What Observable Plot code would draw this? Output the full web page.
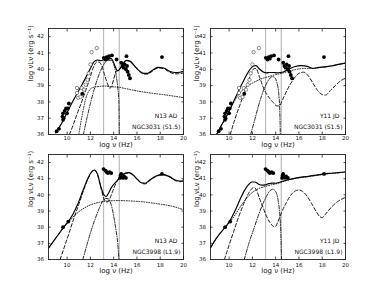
<!DOCTYPE html>
<html><head><meta charset="utf-8">
<script src="https://cdn.jsdelivr.net/npm/d3@7"></script>
<script src="https://cdn.jsdelivr.net/npm/@observablehq/plot@0.6"></script>
<style>
html,body{margin:0;padding:0;background:#fff;}
#fig{position:relative;width:384px;height:288px;overflow:hidden;background:#fff;}
#fig svg{position:absolute;}
</style></head><body><div id="fig"></div>
<script>
const xTicks = [10, 12, 14, 16, 18, 20];
const yTicks = [36, 37, 38, 39, 40, 41, 42];
const bandLines = [13.13, 14.48];
const xLabel = "log ν (Hz)";
const yLabel = "log νLν (erg s⁻¹)";

// NGC3031 photometry
const n3031Filled = [[9.1,36.2],[9.3,36.35],[9.6,37.1],[9.65,36.9],[9.65,37.3],[9.7,37.0],[9.8,37.45],[9.9,37.6],[10.0,37.3],[10.05,37.6],[10.15,37.9],[11.3,38.5],[13.15,40.7],[13.3,40.6],[13.4,40.75],[13.5,40.65],[13.6,40.8],[13.85,40.85],[14.25,40.6],[14.65,40.4],[14.75,40.2],[14.85,40.1],[14.95,40.3],[15.05,40.0],[15.1,40.8],[15.15,40.2],[15.2,39.85],[15.3,39.65],[15.4,39.45],[18.15,40.75]];
const n3031Open = [[10.85,38.85],[11.25,38.85],[10.85,38.55],[10.95,38.25],[11.15,38.3],[11.45,38.75],[11.6,39.05],[11.75,39.35],[11.85,39.75],[12.0,40.3],[12.1,41.05],[12.55,41.3]];
// NGC3998 photometry
const n3998Filled = [[9.65,38.0],[10.1,38.35],[13.13,41.6],[13.3,41.5],[13.4,41.42],[13.5,41.35],[13.65,41.4],[13.8,41.35],[14.55,41.05],[14.6,41.2],[14.65,41.3],[14.7,41.1],[14.8,41.05],[14.9,41.15],[15.05,41.05],[18.15,41.3]];

// Panel 1: N13 AD, NGC3031
const total1 = [[9.0,36.1],[9.5,36.65],[10.0,37.35],[10.5,38.05],[11.0,38.7],[11.5,39.35],[12.0,40.05],[12.3,40.45],[12.6,40.57],[12.9,40.52],[13.2,40.6],[13.5,40.68],[13.8,40.65],[14.0,40.4],[14.2,40.05],[14.35,39.9],[14.55,40.05],[14.8,40.35],[15.1,40.55],[15.4,40.5],[15.8,40.2],[16.2,39.9],[16.6,39.75],[16.9,39.75],[17.3,39.92],[17.8,40.12],[18.3,40.08],[18.8,39.88],[19.3,39.8],[19.7,39.82],[20,39.86]];
const adaf1 = [[10.2,36.0],[10.5,36.55],[10.8,37.15],[11.2,37.9],[11.6,38.7],[12.0,39.55],[12.3,40.2],[12.55,40.45],[12.8,40.42],[13.0,40.15],[13.2,39.7],[13.45,39.15],[13.65,38.85],[13.8,38.9],[14.0,39.4],[14.2,39.85],[14.4,39.95],[14.6,40.05],[14.8,40.33],[15.1,40.53],[15.4,40.48],[15.8,40.18],[16.2,39.87],[16.6,39.71],[16.9,39.7],[17.3,39.87],[17.8,40.08],[18.3,40.04],[18.8,39.82],[19.3,39.72],[19.7,39.73],[20,39.77]];
const jet1 = [[11.0,36.0],[11.3,37.2],[11.6,38.2],[11.9,38.7],[12.2,38.88],[12.6,38.93],[13.2,38.97],[13.8,38.93],[14.4,38.9],[15.0,38.82],[15.8,38.7],[16.6,38.6],[17.4,38.52],[18.2,38.45],[19.0,38.37],[20,38.26]];
const disk1 = [[11.4,36.0],[11.7,37.0],[12.0,37.9],[12.3,38.7],[12.6,39.4],[12.9,39.95],[13.2,40.35],[13.5,40.55],[13.8,40.55],[14.0,40.3],[14.2,39.7],[14.35,38.9],[14.45,38.0],[14.48,36.0]];

// Panel 2: Y11 JD, NGC3031
const total2 = [[8.95,36.05],[9.4,36.64],[9.95,37.35],[10.5,38.2],[11.0,38.95],[11.5,39.65],[11.8,40.0],[12.1,40.2],[12.3,40.22],[12.6,40.02],[12.9,39.85],[13.2,39.78],[13.5,39.8],[13.8,39.8],[14.1,39.78],[14.4,39.8],[14.7,39.85],[15.1,40.0],[15.6,40.15],[16.2,40.22],[16.7,40.18],[17.2,40.05],[17.6,40.1],[18.2,40.15],[18.8,40.2],[19.4,40.3],[20,40.38]];
const adaf2 = [[10.1,36.0],[10.5,36.95],[11.0,37.95],[11.5,38.95],[11.9,39.75],[12.15,40.05],[12.3,40.05],[12.6,39.55],[12.9,38.95],[13.2,38.5],[13.5,38.2],[13.8,37.95],[14.1,37.75],[14.3,37.75],[14.6,38.15],[15.0,38.75],[15.5,39.35],[16.0,39.75],[16.4,39.82],[16.8,39.6],[17.2,39.15],[17.6,38.7],[18.0,38.45],[18.3,38.42],[18.7,38.7],[19.2,39.05],[19.6,39.3],[20,39.45]];
const jet2 = [[8.95,36.05],[9.4,36.64],[9.95,37.35],[10.5,38.1],[11.0,38.6],[11.5,38.95],[12.0,39.15],[12.5,39.33],[13.0,39.47],[13.5,39.57],[14.0,39.67],[14.5,39.75],[15.0,39.85],[15.5,39.95],[16.0,40.02],[16.5,40.05],[17.0,40.05],[17.5,40.08],[18.0,40.12],[18.5,40.18],[19.0,40.24],[19.5,40.31],[20,40.37]];
const disk2 = [[11.85,36.0],[12.2,36.9],[12.5,37.7],[12.8,38.4],[13.1,38.95],[13.4,39.35],[13.7,39.55],[13.9,39.5],[14.1,39.2],[14.25,38.6],[14.35,37.5],[14.4,36.0]];

// Panel 3: N13 AD, NGC3998
const total3 = [[8.4,36.7],[8.8,37.1],[9.2,37.5],[9.65,37.95],[10.1,38.35],[10.5,38.8],[10.9,39.4],[11.4,40.35],[11.8,41.05],[12.1,41.42],[12.35,41.54],[12.6,41.3],[12.9,40.5],[13.15,40.02],[13.35,39.9],[13.55,40.1],[13.8,40.45],[14.2,40.8],[14.6,41.15],[15.0,41.35],[15.3,41.38],[15.7,41.22],[16.1,40.92],[16.4,40.75],[16.7,40.72],[17.1,40.92],[17.6,41.15],[18.2,41.27],[18.8,41.13],[19.3,40.92],[19.7,40.86],[20,40.88]];
const adaf3 = [[9.4,36.0],[9.8,36.85],[10.2,37.7],[10.6,38.6],[11.0,39.4],[11.4,40.25],[11.8,41.0],[12.1,41.4],[12.35,41.52],[12.6,41.28],[12.9,40.45],[13.1,39.9],[13.3,39.6],[13.45,39.55],[13.65,39.75],[13.9,40.2],[14.2,40.72],[14.6,41.1],[15.0,41.32],[15.3,41.35],[15.7,41.2],[16.1,40.9],[16.4,40.72],[16.7,40.68],[17.1,40.88],[17.6,41.12],[18.2,41.24],[18.8,41.1],[19.3,40.88],[19.7,40.82],[20,40.84]];
const jet3 = [[8.4,36.7],[8.8,37.1],[9.2,37.5],[9.65,37.93],[10.1,38.3],[10.5,38.62],[11.0,38.95],[11.5,39.2],[12.0,39.38],[12.5,39.5],[13.0,39.57],[13.5,39.62],[14.0,39.64],[14.5,39.65],[15.0,39.64],[15.5,39.62],[16.0,39.6],[16.5,39.57],[17.0,39.53],[17.5,39.48],[18.0,39.43],[18.5,39.37],[19.0,39.3],[19.5,39.2],[20,39.08]];
const disk3 = [[11.35,36.0],[11.7,36.9],[12.05,37.75],[12.4,38.5],[12.75,39.15],[13.0,39.55],[13.3,39.78],[13.55,39.75],[13.8,39.35],[14.0,38.7],[14.2,37.8],[14.35,37.0],[14.45,36.0]];

// Panel 4: Y11 JD, NGC3998
const total4 = [[8.4,36.72],[8.8,37.2],[9.2,37.6],[9.65,37.98],[10.1,38.45],[10.5,39.0],[10.9,39.65],[11.3,40.25],[11.65,40.62],[11.95,40.8],[12.2,40.8],[12.5,40.68],[12.8,40.6],[13.1,40.62],[13.4,40.7],[13.7,40.73],[14.0,40.72],[14.4,40.8],[15.0,40.92],[15.6,41.02],[16.2,41.1],[16.8,41.15],[17.5,41.22],[18.2,41.3],[18.8,41.34],[19.4,41.38],[20,41.42]];
const adaf4 = [[9.6,36.0],[10.0,36.9],[10.4,37.75],[10.8,38.6],[11.2,39.35],[11.6,40.0],[11.9,40.35],[12.15,40.45],[12.35,40.3],[12.6,39.8],[12.9,39.25],[13.2,38.7],[13.5,38.3],[13.8,38.05],[13.95,38.02],[14.2,38.35],[14.5,38.9],[14.9,39.5],[15.3,39.98],[15.7,40.25],[16.0,40.3],[16.3,40.22],[16.7,39.92],[17.1,39.45],[17.5,38.95],[17.8,38.65],[18.0,38.6],[18.3,38.82],[18.8,39.25],[19.4,39.62],[20,39.85]];
const jet4 = [[8.4,36.72],[8.8,37.2],[9.2,37.6],[9.65,37.97],[10.1,38.35],[10.5,38.75],[11.0,39.3],[11.5,39.8],[12.0,40.15],[12.5,40.38],[13.0,40.5],[13.5,40.6],[14.0,40.68],[14.5,40.78],[15.0,40.9],[15.6,41.0],[16.2,41.07],[16.8,41.13],[17.5,41.2],[18.2,41.28],[18.8,41.33],[19.4,41.37],[20,41.41]];
const disk4 = [[11.3,36.0],[11.7,37.0],[12.1,37.85],[12.5,38.7],[12.9,39.45],[13.2,39.9],[13.5,40.25],[13.75,40.35],[14.0,40.2],[14.2,39.7],[14.35,38.8],[14.45,37.5],[14.5,36.0]];

const rows = a => a.map(([x, y]) => ({x, y}));
const intFmt = d3.format("d");

function panel(p) {
  const fw = 135, mL = 48, mR = 9;
  const W = mL + fw + mR, H = p.mT + p.fh + p.mB;
  const line = (d, dash, sw) => Plot.line(rows(d), {x: "x", y: "y", stroke: "black", strokeWidth: sw, strokeDasharray: dash, curve: "monotone-x", clip: true});
  const inward = (anchor, ticks, axis) => axis({anchor, ticks, tickSize: -2.5, tickFormat: () => "", label: null, stroke: "#222", strokeWidth: 0.8});
  const svg = Plot.plot({
    width: W, height: H, marginLeft: mL, marginRight: mR, marginTop: p.mT, marginBottom: p.mB,
    x: {domain: [8.4, 20]}, y: {domain: [36, 42.5]},
    style: {fontFamily: "DejaVu Sans", fontSize: "5.5px", background: "transparent", overflow: "visible", color: "#111"},
    marks: [
      Plot.ruleX(bandLines, {stroke: "#bbb", strokeWidth: 1.2}),
      line(p.disk, "3.5,1.5,0.8,1.5", 0.85),
      line(p.jet, "0.9,1.6", 0.9),
      line(p.adaf, "3.5,2.2", 0.9),
      line(p.total, null, 1.15),
      Plot.dot(rows(p.open || []), {x: "x", y: "y", r: 1.7, stroke: "#333", strokeWidth: 0.55, fill: "white"}),
      Plot.dot(rows(p.filled), {x: "x", y: "y", r: 1.9, fill: "black", stroke: "none"}),
      Plot.frame({stroke: "#222", strokeWidth: 0.9}),
      Plot.axisX({anchor: "bottom", ticks: xTicks, tickSize: 0, tickPadding: p.xPad, tickFormat: intFmt, label: null, fill: "#111"}),
      Plot.axisY({anchor: "left", ticks: yTicks, tickSize: 0, tickPadding: 4.5, tickFormat: intFmt, label: null, fill: "#111"}),
      inward("bottom", xTicks, Plot.axisX),
      inward("top", xTicks, Plot.axisX),
      inward("left", yTicks, Plot.axisY),
      inward("right", yTicks, Plot.axisY),
      Plot.text([xLabel], {frameAnchor: "bottom", text: d => d, dy: p.xlDy, fontSize: 7, fill: "#111"}),
      Plot.text([yLabel], {frameAnchor: "left", text: d => d, rotate: -90, dx: p.ylDx, fontSize: 7, fill: "#111"}),
      Plot.text([p.model], {frameAnchor: "bottom-right", text: d => d, textAnchor: "end", dx: -6, dy: -16.5, fontSize: 6, fill: "#111"}),
      Plot.text([p.galaxy], {frameAnchor: "bottom-right", text: d => d, textAnchor: "end", dx: -3, dy: -6, fontSize: 6, fill: "#111"})
    ]
  });
  svg.style.left = p.left + "px";
  svg.style.top = p.top + "px";
  document.getElementById("fig").appendChild(svg);
}

panel({left: 0, top: 0, mT: 28, fh: 106, mB: 20, xPad: 1.5, xlDy: 12, ylDx: -18, total: total1, adaf: adaf1, jet: jet1, disk: disk1, filled: n3031Filled, open: n3031Open, model: "N13 AD", galaxy: "NGC3031 (S1.5)"});
panel({left: 162, top: 0, mT: 28, fh: 106, mB: 20, xPad: 1.5, xlDy: 12, ylDx: -14, total: total2, adaf: adaf2, jet: jet2, disk: disk2, filled: n3031Filled, open: n3031Open, model: "Y11 JD", galaxy: "NGC3031 (S1.5)"});
panel({left: 0, top: 140, mT: 14, fh: 105, mB: 24, xPad: 3.5, xlDy: 13.5, ylDx: -18, total: total3, adaf: adaf3, jet: jet3, disk: disk3, filled: n3998Filled, model: "N13 AD", galaxy: "NGC3998 (L1.9)"});
panel({left: 162, top: 140, mT: 14, fh: 105, mB: 24, xPad: 3.5, xlDy: 13.5, ylDx: -14, total: total4, adaf: adaf4, jet: jet4, disk: disk4, filled: n3998Filled, model: "Y11 JD", galaxy: "NGC3998 (L1.9)"});
</script>
</body></html>
